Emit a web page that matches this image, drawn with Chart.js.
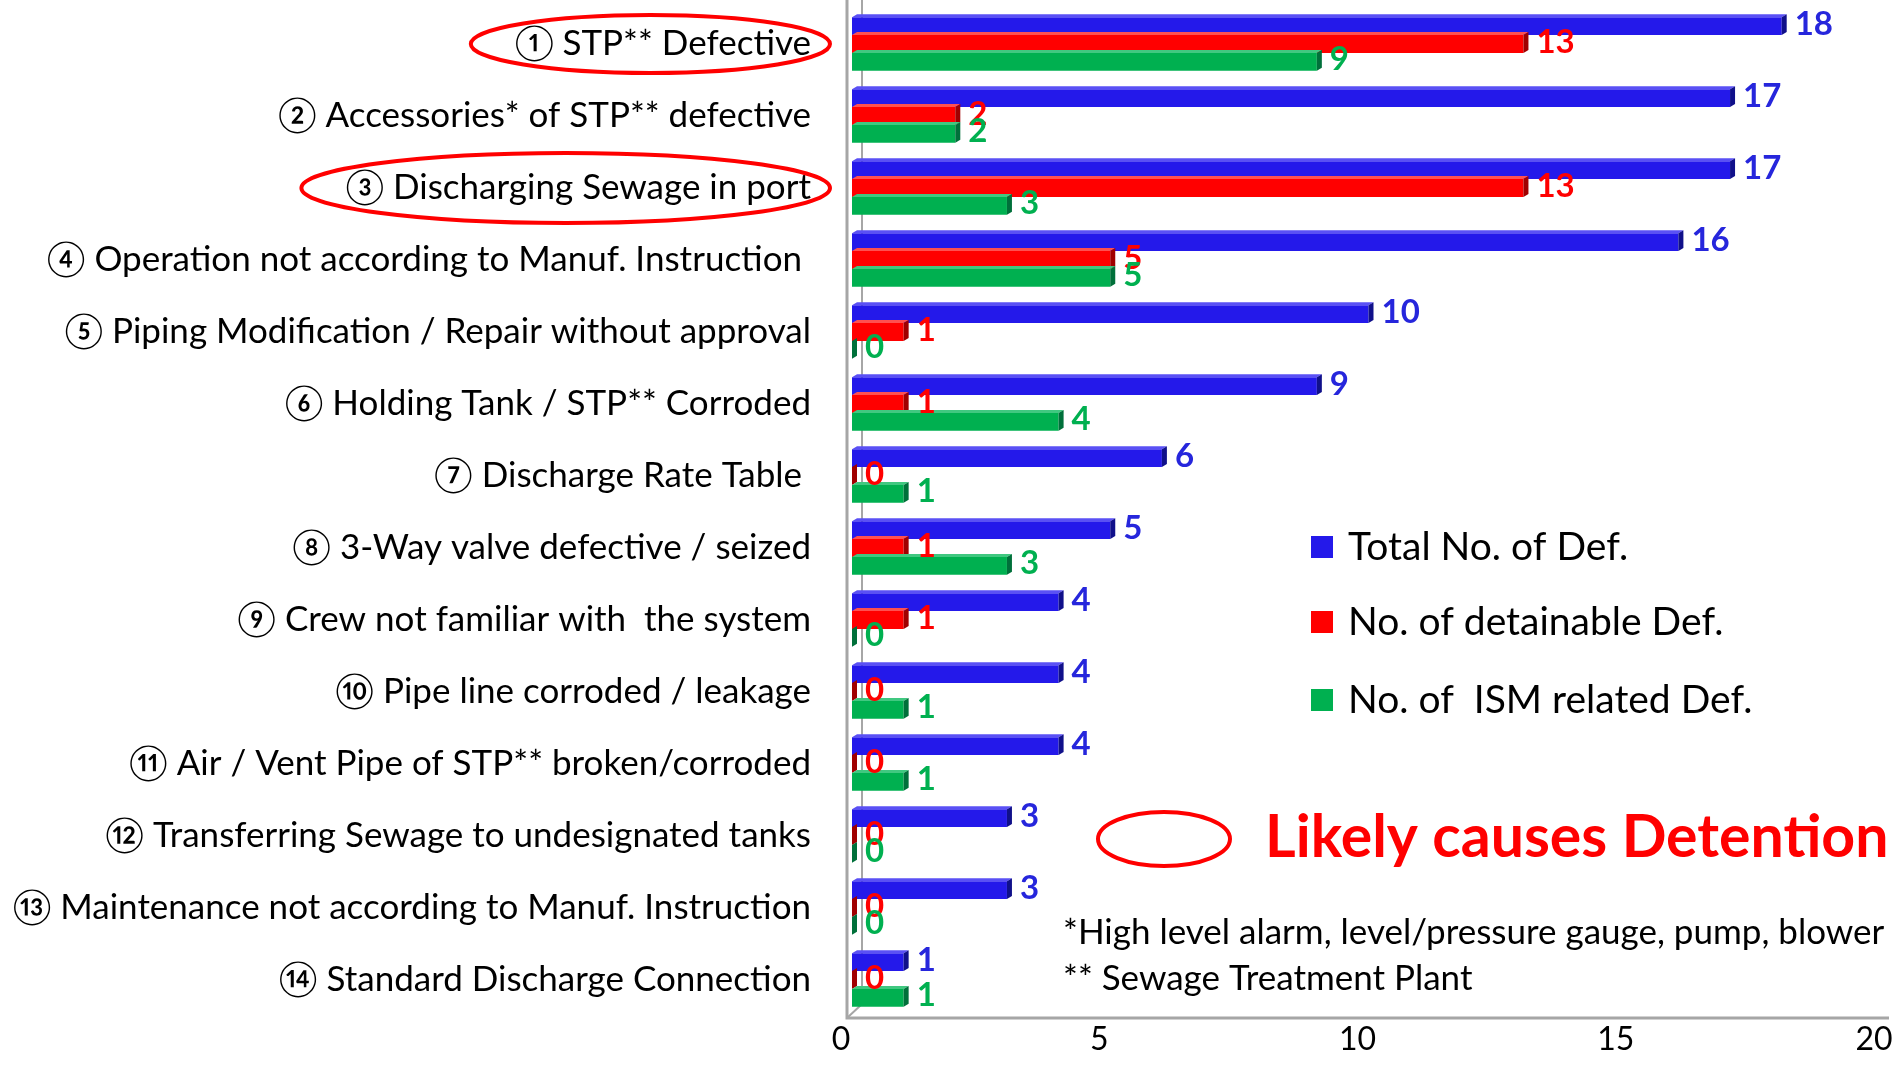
<!DOCTYPE html>
<html lang="en">
<head>
    <meta charset="UTF-8">
    <title>Sewage system deficiencies</title>
    <script src="https://cdn.jsdelivr.net/npm/chart.js"></script>
    <style>
        html, body { margin: 0; padding: 0; background: #fff; }
        #wrap { width: 1899px; height: 1077px; }
    </style>
</head>
<body>
    <div id="wrap"><canvas id="defChart" width="1899" height="1077"></canvas></div>

    <script>
        // data
        const categories = [
            '\u2460 STP** Defective',
            '\u2461 Accessories* of STP** defective',
            '\u2462 Discharging Sewage in port',
            '\u2463 Operation not according to Manuf. Instruction ',
            '\u2464 Piping Modification / Repair without approval',
            '\u2465 Holding Tank / STP** Corroded',
            '\u2466 Discharge Rate Table ',
            '\u2467 3-Way valve defective / seized',
            '\u2468 Crew not familiar with  the system',
            '\u2469 Pipe line corroded / leakage',
            '\u246A Air / Vent Pipe of STP** broken/corroded',
            '\u246B Transferring Sewage to undesignated tanks',
            '\u246C Maintenance not according to Manuf. Instruction',
            '\u246D Standard Discharge Connection'
        ];
        const totalDef = [18, 17, 17, 16, 10, 9, 6, 5, 4, 4, 4, 3, 3, 1];
        const detainableDef = [13, 2, 13, 5, 1, 1, 0, 1, 1, 0, 0, 0, 0, 0];
        const ismDef = [9, 2, 3, 5, 0, 4, 1, 3, 0, 1, 1, 0, 0, 1];
        const seriesNames = ['Total No. of Def.', 'No. of detainable Def.', 'No. of  ISM related Def.'];
        const xTicks = [0, 5, 10, 15, 20];
        const circled = [0, 2]; // rows marked as likely detention causes
        const noteTitle = 'Likely causes Detention';
        const footnotes = ['*High level alarm, level/pressure gauge, pump, blower', '** Sewage Treatment Plant'];

        const FONT = "Lato, 'Noto Sans CJK JP', sans-serif";
        const colors = ['#2419EA', '#FF0000', '#00B050'];
        const darkColors = ['#10108A', '#A00000', '#00703A'];
        const lightColors = ['#5A50F5', '#FF5050', '#40C880'];
        const labelColors = ['#2626DC', '#FF0000', '#00B050'];

        // axis box lines (3d look)
        const axisBox = {
            id: 'axisBox',
            beforeDatasetsDraw(chart) {
                const { ctx, chartArea: a } = chart;
                ctx.save();
                ctx.strokeStyle = '#A6A6A6';
                ctx.lineWidth = 2;
                ctx.beginPath();
                ctx.moveTo(a.left + 10, 0);
                ctx.lineTo(a.left + 10, a.bottom - 12);
                ctx.lineTo(a.left - 5, a.bottom + 2);
                ctx.stroke();
                ctx.lineWidth = 3;
                ctx.beginPath();
                ctx.moveTo(a.left - 5, 0);
                ctx.lineTo(a.left - 5, a.bottom + 2);
                ctx.lineTo(a.right + 4, a.bottom + 2);
                ctx.stroke();
                ctx.restore();
            }
        };

        // bar end faces + value labels
        const barDecor = {
            id: 'barDecor',
            afterDatasetsDraw(chart) {
                const ctx = chart.ctx;
                const d = 5;
                ctx.save();
                chart.data.datasets.forEach((ds, i) => {
                    const meta = chart.getDatasetMeta(i);
                    meta.data.forEach((bar, j) => {
                        const top = bar.y - bar.height / 2;
                        const bottom = bar.y + bar.height / 2;
                        ctx.fillStyle = lightColors[i];
                        ctx.beginPath();
                        ctx.moveTo(bar.base, top);
                        ctx.lineTo(bar.base + d, top - 3);
                        ctx.lineTo(bar.x + d, top - 3);
                        ctx.lineTo(bar.x, top);
                        ctx.closePath();
                        ctx.fill();
                        ctx.fillStyle = darkColors[i];
                        ctx.beginPath();
                        ctx.moveTo(bar.x, top);
                        ctx.lineTo(bar.x + d, top - 3);
                        ctx.lineTo(bar.x + d, bottom - 3);
                        ctx.lineTo(bar.x, bottom);
                        ctx.closePath();
                        ctx.fill();
                    });
                });
                ctx.font = 'bold 33px ' + FONT;
                ctx.textBaseline = 'middle';
                ctx.textAlign = 'left';
                chart.data.datasets.forEach((ds, i) => {
                    const meta = chart.getDatasetMeta(i);
                    ctx.fillStyle = labelColors[i];
                    meta.data.forEach((bar, j) => {
                        ctx.fillText(String(ds.data[j]), bar.x + 13, bar.y - 2);
                    });
                });
                ctx.restore();
            }
        };

        // ellipses, legend and notes
        const notes = {
            id: 'notes',
            afterDraw(chart) {
                const ctx = chart.ctx;
                const yScale = chart.scales.y;
                ctx.save();
                ctx.strokeStyle = '#FF0000';
                ctx.lineWidth = 4;
                ctx.font = '35px ' + FONT;
                circled.forEach(idx => {
                    const w = ctx.measureText(categories[idx]).width;
                    const right = 830;
                    const left = 811 - w - 44;
                    const cy = yScale.getPixelForValue(idx);
                    ctx.beginPath();
                    ctx.ellipse((left + right) / 2, cy, (right - left) / 2, idx === 0 ? 29 : 35, 0, 0, Math.PI * 2);
                    ctx.stroke();
                });

                // legend
                const legendY = [547, 622, 700];
                ctx.font = '39px ' + FONT;
                ctx.textBaseline = 'middle';
                ctx.textAlign = 'left';
                chart.data.datasets.forEach((ds, i) => {
                    ctx.fillStyle = ds.backgroundColor;
                    ctx.fillRect(1311, legendY[i] - 11, 22, 22);
                    ctx.fillStyle = '#000';
                    ctx.fillText(ds.label, 1348, legendY[i]);
                });

                // "likely causes" key
                ctx.beginPath();
                ctx.ellipse(1164, 839, 66, 27, 0, 0, Math.PI * 2);
                ctx.stroke();
                ctx.fillStyle = '#FF0000';
                ctx.font = 'bold 59px ' + FONT;
                ctx.fillText(noteTitle, 1265, 838);

                ctx.fillStyle = '#000';
                ctx.font = '35px ' + FONT;
                ctx.fillText(footnotes[0], 1063, 933);
                ctx.fillText(footnotes[1], 1063, 979);
                ctx.restore();
            }
        };

        const ctx = document.getElementById('defChart').getContext('2d');
        const defChart = new Chart(ctx, {
            type: 'bar',
            data: {
                labels: categories,
                datasets: [
                    { label: seriesNames[0], data: totalDef, backgroundColor: colors[0] },
                    { label: seriesNames[1], data: detainableDef, backgroundColor: colors[1] },
                    { label: seriesNames[2], data: ismDef, backgroundColor: colors[2] }
                ]
            },
            options: {
                indexAxis: 'y',
                responsive: false,
                animation: false,
                devicePixelRatio: 1,
                layout: { padding: { top: 8, right: 14, left: 0, bottom: 0 } },
                datasets: { bar: { categoryPercentage: 0.74, barPercentage: 1 } },
                plugins: {
                    legend: { display: false },
                    tooltip: { enabled: false }
                },
                scales: {
                    x: {
                        min: 0,
                        max: 20,
                        afterBuildTicks: s => { s.ticks = xTicks.map(v => ({ value: v })); },
                        afterFit: s => { s.height = 61; s.paddingRight = 0; s.paddingLeft = 0; },
                        grid: { display: false, drawTicks: false },
                        border: { display: false },
                        ticks: {
                            color: '#000',
                            padding: 4,
                            labelOffset: -11,
                            maxRotation: 0,
                            font: { family: FONT, size: 32 }
                        }
                    },
                    y: {
                        afterFit: s => { s.width = 852; s.paddingTop = 0; s.paddingBottom = 0; },
                        grid: { display: false, drawTicks: false },
                        border: { display: false },
                        ticks: {
                            color: '#000',
                            padding: 41,
                            autoSkip: false,
                            font: { family: FONT, size: 35 }
                        }
                    }
                }
            },
            plugins: [axisBox, barDecor, notes]
        });
    </script>
</body>
</html>
